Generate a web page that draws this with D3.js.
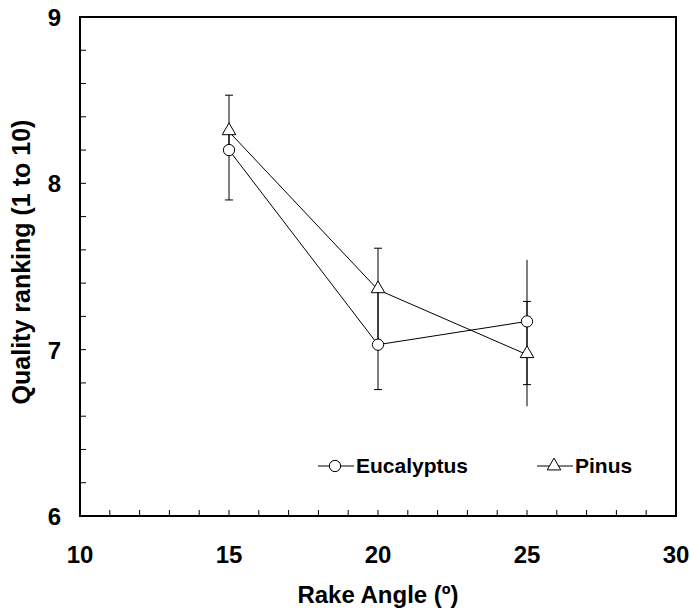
<!DOCTYPE html>
<html>
<head>
<meta charset="utf-8">
<script src="https://cdn.jsdelivr.net/npm/d3@7"></script>
<style>
  body { margin: 0; background: #fff; }
  svg text { font-family: "Liberation Sans", Arial, sans-serif; font-weight: bold; fill: #000; }
</style>
</head>
<body>
<div id="chart"></div>
<script>
/* Data */

var rakeAngles = [15, 20, 25];

var eucalyptus = [8.20, 7.03, 7.17];
var eucPlus = [0.11, 0.33, 0.12];
var eucMinus = [0.30, 0.27, 0.38];
var eucCapped = [true, true, true];

var pinus = [8.31, 7.36, 6.97];
var pinusPlus = [0.22, 0.25, 0.57];
var pinusMinus = [0.11, 0.33, 0.31];
var pinusCapped = [true, true, false];

var xTicks = [10, 15, 20, 25, 30];
var yTicks = [6, 7, 8, 9];

var width = 690,
    height = 609;

var margin = {top: 17, right: 14, bottom: 93, left: 80};

var svg = d3.select("#chart").append("svg")
    .attr("width", width)
    .attr("height", height);

var x = d3.scaleLinear().domain([10, 30]).range([margin.left, width - margin.right]);
var y = d3.scaleLinear().domain([6, 9]).range([height - margin.bottom, margin.top]);

// minor ticks pointing inward
var xMinor = d3.range(11, 30, 1);
var yMinor = d3.range(6.2, 9, 0.2);

svg.append("g").selectAll("line").data(xMinor).enter().append("line")
    .attr("x1", function(d) { return x(d); })
    .attr("x2", function(d) { return x(d); })
    .attr("y1", y(6))
    .attr("y2", y(6) - 6)
    .attr("stroke", "#000").attr("stroke-width", 1);

svg.append("g").selectAll("line").data(yMinor).enter().append("line")
    .attr("x1", x(10))
    .attr("x2", x(10) + 6)
    .attr("y1", function(d) { return y(d); })
    .attr("y2", function(d) { return y(d); })
    .attr("stroke", "#000").attr("stroke-width", 1);

// frame
svg.append("rect")
    .attr("x", x(10)).attr("y", y(9))
    .attr("width", x(30) - x(10)).attr("height", y(6) - y(9))
    .attr("fill", "none").attr("stroke", "#000").attr("stroke-width", 2);

// tick labels
svg.append("g").selectAll("text").data(xTicks).enter().append("text")
    .attr("x", function(d) { return x(d); })
    .attr("y", y(6) + 47)
    .attr("text-anchor", "middle")
    .style("font-size", "24px")
    .text(function(d) { return d; });

svg.append("g").selectAll("text").data(yTicks).enter().append("text")
    .attr("x", x(10) - 19)
    .attr("y", function(d) { return y(d) + 9; })
    .attr("text-anchor", "end")
    .style("font-size", "24px")
    .text(function(d) { return d; });

// axis titles
svg.append("text")
    .attr("x", x(20))
    .attr("y", 603)
    .attr("text-anchor", "middle")
    .style("font-size", "24px")
    .text("Rake Angle (º)");

svg.append("text")
    .attr("transform", "translate(30,262) rotate(-90)")
    .attr("text-anchor", "middle")
    .style("font-size", "25px")
    .text("Quality ranking (1 to 10)");

/* Series */

function drawErrors(vals, plus, minus, capped) {
    var g = svg.append("g");
    rakeAngles.forEach(function(a, i) {
        var top = vals[i] + plus[i], bot = vals[i] - minus[i];
        g.append("line")
            .attr("x1", x(a)).attr("x2", x(a))
            .attr("y1", y(top)).attr("y2", y(bot))
            .attr("stroke", "#000").attr("stroke-width", 1);
        if (capped[i]) {
            [top, bot].forEach(function(v) {
                g.append("line")
                    .attr("x1", x(a) - 4).attr("x2", x(a) + 4)
                    .attr("y1", y(v)).attr("y2", y(v))
                    .attr("stroke", "#000").attr("stroke-width", 1);
            });
        }
    });
}

drawErrors(eucalyptus, eucPlus, eucMinus, eucCapped);
drawErrors(pinus, pinusPlus, pinusMinus, pinusCapped);

var line = d3.line()
    .x(function(d, i) { return x(rakeAngles[i]); })
    .y(function(d) { return y(d); });

svg.append("path").datum(eucalyptus)
    .attr("d", line).attr("fill", "none").attr("stroke", "#000").attr("stroke-width", 1);
svg.append("path").datum(pinus)
    .attr("d", line).attr("fill", "none").attr("stroke", "#000").attr("stroke-width", 1);

var circleSym = d3.symbol().type(d3.symbolCircle).size(100);
var triSym = d3.symbol().type(d3.symbolTriangle).size(80);

svg.append("g").selectAll("path").data(eucalyptus).enter().append("path")
    .attr("d", circleSym)
    .attr("transform", function(d, i) { return "translate(" + x(rakeAngles[i]) + "," + y(d) + ")"; })
    .attr("fill", "#fff").attr("stroke", "#000").attr("stroke-width", 1);

svg.append("g").selectAll("path").data(pinus).enter().append("path")
    .attr("d", triSym)
    .attr("transform", function(d, i) { return "translate(" + x(rakeAngles[i]) + "," + (y(d) - 1) + ")"; })
    .attr("fill", "#fff").attr("stroke", "#000").attr("stroke-width", 1);

/* Legend */

var legend = [
    {label: "Eucalyptus", sym: circleSym, x0: 318},
    {label: "Pinus", sym: triSym, x0: 537}
];

var lg = svg.append("g").selectAll("g").data(legend).enter().append("g")
    .attr("transform", function(d) { return "translate(" + d.x0 + ",466)"; });
lg.append("line").attr("x1", 0).attr("x2", 36).attr("y1", 0).attr("y2", 0)
    .attr("stroke", "#000").attr("stroke-width", 1);
lg.append("path").attr("d", function(d) { return d.sym(); })
    .attr("transform", "translate(17,0)")
    .attr("fill", "#fff").attr("stroke", "#000").attr("stroke-width", 1);
lg.append("text").attr("x", 38).attr("y", 7)
    .style("font-size", "21px")
    .text(function(d) { return d.label; });
</script>
</body>
</html>
